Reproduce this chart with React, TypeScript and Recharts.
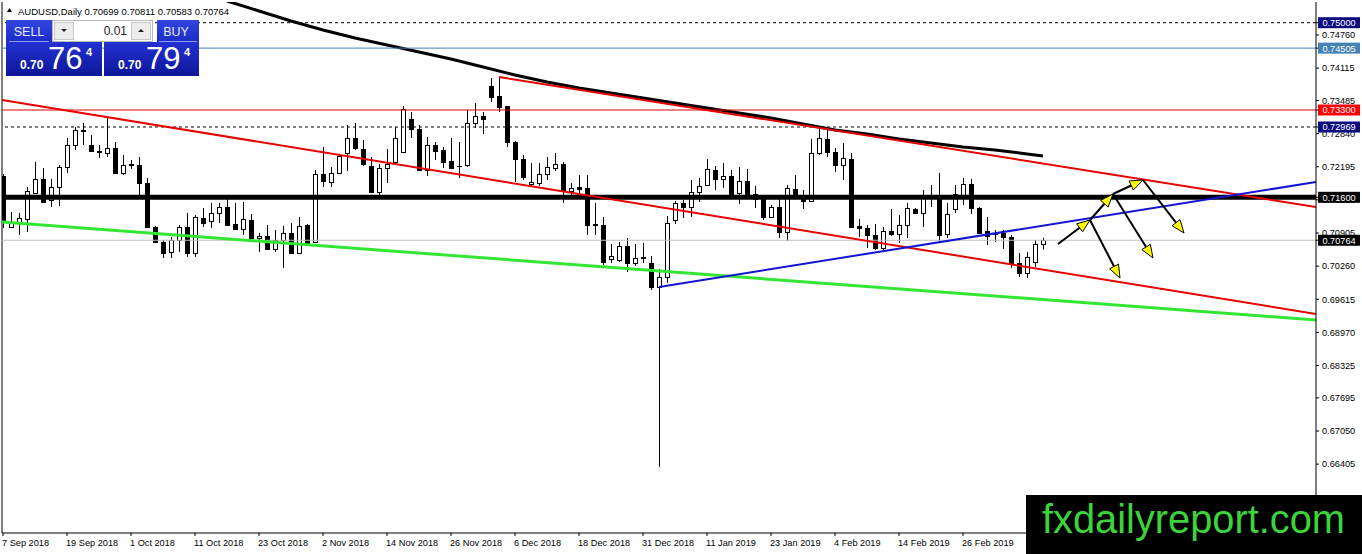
import React from "react";
import { Bar, ComposedChart, Line, ReferenceLine, XAxis, YAxis } from "recharts";

// daily bars, AUDUSD
const dates = [
  "2018-09-07", "2018-09-10", "2018-09-11", "2018-09-12", "2018-09-13", "2018-09-14", "2018-09-17", "2018-09-18",
  "2018-09-19", "2018-09-20", "2018-09-21", "2018-09-24", "2018-09-25", "2018-09-26", "2018-09-27", "2018-09-28",
  "2018-10-01", "2018-10-02", "2018-10-03", "2018-10-04", "2018-10-05", "2018-10-08", "2018-10-09", "2018-10-10",
  "2018-10-11", "2018-10-12", "2018-10-15", "2018-10-16", "2018-10-17", "2018-10-18", "2018-10-19", "2018-10-22",
  "2018-10-23", "2018-10-24", "2018-10-25", "2018-10-26", "2018-10-29", "2018-10-30", "2018-10-31",
  "2018-11-01", "2018-11-02", "2018-11-05", "2018-11-06", "2018-11-07", "2018-11-08", "2018-11-09", "2018-11-12",
  "2018-11-13", "2018-11-14", "2018-11-15", "2018-11-16", "2018-11-19", "2018-11-20", "2018-11-21", "2018-11-22",
  "2018-11-23", "2018-11-26", "2018-11-27", "2018-11-28", "2018-11-29", "2018-11-30",
  "2018-12-03", "2018-12-04", "2018-12-05", "2018-12-06", "2018-12-07", "2018-12-10", "2018-12-11", "2018-12-12",
  "2018-12-13", "2018-12-14", "2018-12-17", "2018-12-18", "2018-12-19", "2018-12-20", "2018-12-21", "2018-12-24",
  "2018-12-26", "2018-12-27", "2018-12-28", "2018-12-31",
  "2019-01-02", "2019-01-03", "2019-01-04", "2019-01-07", "2019-01-08", "2019-01-09", "2019-01-10", "2019-01-11",
  "2019-01-14", "2019-01-15", "2019-01-16", "2019-01-17", "2019-01-18", "2019-01-21", "2019-01-22", "2019-01-23",
  "2019-01-24", "2019-01-25", "2019-01-28", "2019-01-29", "2019-01-30", "2019-01-31",
  "2019-02-01", "2019-02-04", "2019-02-05", "2019-02-06", "2019-02-07", "2019-02-08", "2019-02-11", "2019-02-12",
  "2019-02-13", "2019-02-14", "2019-02-15", "2019-02-18", "2019-02-19", "2019-02-20", "2019-02-21", "2019-02-22",
  "2019-02-25", "2019-02-26", "2019-02-27", "2019-02-28",
  "2019-03-01", "2019-03-04", "2019-03-05", "2019-03-06", "2019-03-07", "2019-03-08", "2019-03-11", "2019-03-12",
];

const opens = [
  0.72015, 0.71022, 0.7112, 0.71178, 0.71684, 0.71957, 0.71548, 0.71801, 0.72191, 0.72619,
  0.72911, 0.72619, 0.72502, 0.72463, 0.7256, 0.72074, 0.72249, 0.72229, 0.71879, 0.71022,
  0.7073, 0.70536, 0.70769, 0.71022, 0.70516, 0.71198, 0.71139, 0.71295, 0.71412, 0.71081,
  0.70983, 0.71159, 0.70808, 0.70847, 0.70594, 0.70769, 0.70905, 0.70516, 0.71061, 0.7073,
  0.72054, 0.71898, 0.72074, 0.72463, 0.72755, 0.72541, 0.7221, 0.71704, 0.72171, 0.72288,
  0.72483, 0.73125, 0.7293, 0.72132, 0.72619, 0.72521, 0.72307, 0.7221, 0.72229, 0.73047,
  0.73183, 0.73768, 0.73573, 0.73378, 0.72677, 0.72346, 0.7186, 0.71879, 0.72054, 0.72171,
  0.72249, 0.71723, 0.71801, 0.71782, 0.71081, 0.71061, 0.70399, 0.7038, 0.70652, 0.70321,
  0.70438, 0.70321, 0.69854, 0.70049, 0.71159, 0.7149, 0.71412, 0.71704, 0.7184, 0.72132,
  0.71957, 0.72015, 0.71684, 0.71918, 0.71665, 0.71567, 0.71217, 0.71412, 0.70925, 0.71762,
  0.71606, 0.71529, 0.72463, 0.72736, 0.72483, 0.72229, 0.72346, 0.71042, 0.71003, 0.70867,
  0.70613, 0.70944, 0.70886, 0.71061, 0.71373, 0.71295, 0.71587, 0.71587, 0.70886, 0.71373,
  0.71645, 0.7186, 0.71392, 0.70944, 0.70905, 0.70905, 0.70828, 0.70321, 0.70127, 0.70341,
  0.70699,
];

const highs = [
  0.72054, 0.71314, 0.71295, 0.71801, 0.72288, 0.72171, 0.71957, 0.72229, 0.72755, 0.72969,
  0.73047, 0.72814, 0.72619, 0.73145, 0.72677, 0.72424, 0.72327, 0.72385, 0.71976, 0.71042,
  0.70769, 0.70828, 0.71061, 0.71295, 0.71256, 0.71392, 0.7149, 0.7149, 0.71587, 0.7149,
  0.71509, 0.71275, 0.70905, 0.71061, 0.70964, 0.71042, 0.711, 0.71217, 0.71081, 0.72132,
  0.7258, 0.72191, 0.72444, 0.73008, 0.73047, 0.72716, 0.72385, 0.72249, 0.72541, 0.72969,
  0.73378, 0.73261, 0.73008, 0.72775, 0.72677, 0.7258, 0.72755, 0.72677, 0.733, 0.73437,
  0.73261, 0.73923, 0.73943, 0.73378, 0.72697, 0.72424, 0.72268, 0.72268, 0.72385, 0.72463,
  0.72288, 0.71879, 0.72035, 0.72035, 0.7149, 0.71217, 0.70691, 0.7073, 0.70808, 0.70691,
  0.70711, 0.70458, 0.70205, 0.71236, 0.71529, 0.71548, 0.71937, 0.71976, 0.72346, 0.7221,
  0.72268, 0.72132, 0.72191, 0.72152, 0.71821, 0.71645, 0.71451, 0.71645, 0.7184, 0.72035,
  0.71743, 0.72736, 0.7293, 0.72911, 0.7256, 0.72658, 0.72463, 0.71178, 0.71061, 0.71081,
  0.71022, 0.71373, 0.71256, 0.7149, 0.71392, 0.71743, 0.7184, 0.72074, 0.7149, 0.7184,
  0.71976, 0.71957, 0.71412, 0.71217, 0.70964, 0.70964, 0.70867, 0.70516, 0.70536, 0.70769,
  0.70811,
];

const lows = [
  0.71003, 0.71003, 0.70867, 0.70925, 0.71684, 0.7149, 0.71412, 0.71431, 0.72074, 0.72521,
  0.72619, 0.72502, 0.72366, 0.72385, 0.72054, 0.72035, 0.72152, 0.71626, 0.71003, 0.7073,
  0.70419, 0.70419, 0.70536, 0.70438, 0.70438, 0.71022, 0.71003, 0.711, 0.71061, 0.70983,
  0.70867, 0.70808, 0.70536, 0.70574, 0.70536, 0.70224, 0.70516, 0.70516, 0.70691, 0.70711,
  0.71801, 0.71801, 0.72074, 0.72113, 0.72521, 0.7221, 0.71704, 0.71626, 0.71879, 0.72268,
  0.72483, 0.72755, 0.72113, 0.72015, 0.72327, 0.72171, 0.72171, 0.71976, 0.72191, 0.7295,
  0.72833, 0.73456, 0.73261, 0.7258, 0.71898, 0.71937, 0.71801, 0.71821, 0.71937, 0.72113,
  0.7149, 0.71645, 0.71645, 0.70867, 0.70867, 0.70282, 0.70321, 0.70341, 0.70146, 0.70263,
  0.70321, 0.69796, 0.6635, 0.69932, 0.71081, 0.71198, 0.71217, 0.71509, 0.7184, 0.71743,
  0.71782, 0.71626, 0.7147, 0.71587, 0.71392, 0.71159, 0.71198, 0.70808, 0.7075, 0.71606,
  0.71373, 0.71509, 0.72424, 0.72385, 0.72093, 0.71937, 0.71022, 0.70828, 0.70613, 0.70574,
  0.70574, 0.70847, 0.70711, 0.70808, 0.71275, 0.71022, 0.71412, 0.7073, 0.70808, 0.71295,
  0.71451, 0.71275, 0.70905, 0.70672, 0.7073, 0.70594, 0.70224, 0.70049, 0.70029, 0.70244,
  0.70583,
];

const closes = [
  0.71159, 0.711, 0.71198, 0.71723, 0.71957, 0.71509, 0.71801, 0.72191, 0.72619, 0.72911,
  0.72891, 0.72502, 0.72483, 0.7256, 0.72074, 0.72229, 0.72229, 0.71879, 0.71022, 0.7073,
  0.70516, 0.70769, 0.71022, 0.70516, 0.71217, 0.711, 0.71295, 0.71412, 0.71061, 0.70983,
  0.71178, 0.70808, 0.70847, 0.70594, 0.70769, 0.70905, 0.70516, 0.71042, 0.70711, 0.72054,
  0.71918, 0.72074, 0.72405, 0.72755, 0.7256, 0.72249, 0.71704, 0.72171, 0.72249, 0.72755,
  0.7332, 0.7293, 0.72132, 0.72619, 0.72502, 0.72288, 0.72171, 0.7221, 0.73047, 0.73183,
  0.73125, 0.73553, 0.73359, 0.72677, 0.72346, 0.71996, 0.71898, 0.72054, 0.72191, 0.72249,
  0.71743, 0.71782, 0.71762, 0.71061, 0.71061, 0.70341, 0.70458, 0.70652, 0.70321, 0.70419,
  0.70419, 0.69854, 0.70049, 0.711, 0.7149, 0.71412, 0.71704, 0.71821, 0.72152, 0.71957,
  0.72015, 0.71645, 0.71918, 0.71645, 0.71567, 0.71217, 0.71412, 0.70925, 0.71782, 0.71606,
  0.71529, 0.72463, 0.72755, 0.72483, 0.72229, 0.72366, 0.71022, 0.71003, 0.70867, 0.70613,
  0.70944, 0.70886, 0.71061, 0.71392, 0.71295, 0.71587, 0.71587, 0.70867, 0.71275, 0.71665,
  0.7186, 0.71392, 0.70905, 0.70847, 0.70886, 0.70828, 0.70321, 0.70127, 0.70438, 0.70691,
  0.70764,
];

// moving average read at every 4th bar
const maIndex = [28, 32, 36, 40, 44, 48, 52, 56, 60, 64, 68, 72, 76, 80, 84, 88, 92, 96, 100, 104, 108, 112, 116, 120, 124, 128, 130];
const maValues = [
  0.75423, 0.75228, 0.75033, 0.74858, 0.74702, 0.74566, 0.7443, 0.74293, 0.74138, 0.73982,
  0.73846, 0.73729, 0.73631, 0.73534, 0.73437, 0.73339, 0.73242, 0.73145, 0.73028, 0.72911,
  0.72833, 0.72736, 0.72658, 0.7258, 0.72521, 0.72444, 0.72405,
];

const priceTicks = [0.7476, 0.74115, 0.73485, 0.7284, 0.72195, 0.7155, 0.70905, 0.7026, 0.69615, 0.6897, 0.68325, 0.67695, 0.6705, 0.66405, 0.6576];
const dateTicks = [0, 8, 16, 24, 32, 40, 48, 56, 64, 72, 80, 88, 96, 104, 112, 120];
const months = ["Jan", "Feb", "Mar", "Apr", "May", "Jun", "Jul", "Aug", "Sep", "Oct", "Nov", "Dec"];

// horizontal levels
const levelDashTop = 0.75;
const levelBlue = 0.74505;
const levelRed = 0.733;
const levelDashMid = 0.72969;
const levelBlack = 0.716;
const bid = closes[closes.length - 1];
const ask = 0.70794;

// price tags drawn on the axis, on top of the regular ticks
const tagPrices = [levelDashTop, levelBlue, levelRed, levelDashMid, levelBlack, bid];
const tagColors = ["#0b0b80", "#4682b4", "#ff0000", "#0b0b80", "#000000", "#000000"];

// trend lines: [bar1, price1, bar2, price2]
const channelUpper = [62, 0.73943, 164.125, 0.71412];
const channelLower = [-0.125, 0.73495, 164.125, 0.69328];
const greenLine = [-0.125, 0.7112, 164.125, 0.69212];
const blueLine = [82, 0.69854, 164.125, 0.71898];

// projected path arrows: [bar1, price1, bar2, price2]
const upArrows = [
  [131.875, 0.70691, 135.875, 0.71159],
  [135.875, 0.71159, 138.75, 0.71665],
  [138.75, 0.71665, 142.5, 0.71937],
];
const downArrows = [
  [135.875, 0.71159, 139.625, 0.70029],
  [138.75, 0.71665, 143.75, 0.70419],
  [142.5, 0.71937, 147.625, 0.70905],
];

const maMap: Record<number, number> = {};
maIndex.forEach((idx, k) => (maMap[idx] = maValues[k]));

const data = dates.map((d, i) => ({
  i,
  date: d,
  o: opens[i],
  h: highs[i],
  l: lows[i],
  c: closes[i],
  range: [lows[i], highs[i]],
  ma: maMap[i] !== undefined ? maMap[i] : null,
}));

const FONT = "'Liberation Sans', Arial, sans-serif";

const fmtDate = (i: number) => {
  const d = dates[i];
  if (!d) return "";
  const [y, m, day] = d.split("-");
  return `${parseInt(day, 10)} ${months[parseInt(m, 10) - 1]} ${y}`;
};

const Candle = (props: any) => {
  const { x, y, width, height, payload } = props;
  const { o, h, l, c } = payload;
  const yHi = Math.min(y, y + height);
  const yLo = Math.max(y, y + height);
  const span = h - l || 1;
  const py = (p: number) => yHi + ((h - p) / span) * (yLo - yHi);
  const cx = Math.round(x + width / 2);
  const top = Math.round(py(Math.max(o, c)));
  const bot = Math.round(py(Math.min(o, c)));
  const up = c >= o;
  return (
    <g>
      <line x1={cx + 0.5} x2={cx + 0.5} y1={yHi} y2={yLo} stroke="#000" strokeWidth={1} />
      {bot - top < 1 ? (
        <line x1={cx - 2} x2={cx + 3} y1={top + 0.5} y2={top + 0.5} stroke="#000" strokeWidth={1} />
      ) : (
        <rect x={cx - 1.5} y={top + 0.5} width={4} height={bot - top} fill={up ? "#fff" : "#000"} stroke="#000" strokeWidth={1} />
      )}
    </g>
  );
};

const XTick = (props: any) => {
  const { x, y, payload } = props;
  return (
    <text x={x - 1} y={y} dy="0.71em" textAnchor="start" fontSize={9.2} fontFamily={FONT} fill="#000">
      {fmtDate(payload.value)}
    </text>
  );
};

const YTick = (props: any) => {
  const { x, y, payload, index } = props;
  const v: number = payload.value;
  const tagAt = index >= priceTicks.length ? index - priceTicks.length : -1;
  if (tagAt >= 0) {
    return (
      <g>
        <rect x={x - 4} y={y - 5.5} width={42} height={11} fill={tagColors[tagAt]} />
        <text x={x + 17} y={y + 3.4} textAnchor="middle" fontSize={9.2} fontFamily={FONT} fill="#fff">
          {v.toFixed(5)}
        </text>
      </g>
    );
  }
  return (
    <text x={x} y={y + 3.3} textAnchor="start" fontSize={9.2} fontFamily={FONT} fill="#000">
      {v.toFixed(5)}
    </text>
  );
};

const ArrowShape = (props: any) => {
  const { x1, y1, x2, y2 } = props;
  const dx = x2 - x1;
  const dy = y2 - y1;
  const len = Math.hypot(dx, dy) || 1;
  const ux = dx / len;
  const uy = dy / len;
  const hl = 13;
  const hw = 5;
  const bx = x2 - ux * hl;
  const by = y2 - uy * hl;
  const pts = `${x2},${y2} ${bx - uy * hw},${by + ux * hw} ${bx + uy * hw},${by - ux * hw}`;
  return (
    <g>
      <line x1={x1} y1={y1} x2={bx} y2={by} stroke="#000" strokeWidth={2} />
      <polygon points={pts} fill="#ffff00" stroke="#000" strokeWidth={1} />
    </g>
  );
};

const seg = (s: number[]) => [
  { x: s[0], y: s[1] },
  { x: s[2], y: s[3] },
];

const Panel = () => {
  const last = closes.length - 1;
  const title = `AUDUSD,Daily ${opens[last].toFixed(5)} ${highs[last].toFixed(5)} ${lows[last].toFixed(5)} ${closes[last].toFixed(5)}`;
  const bidStr = bid.toFixed(5);
  const askStr = ask.toFixed(5);
  return (
    <svg width={260} height={80} style={{ position: "absolute", left: 0, top: 0 }}>
      <defs>
        <linearGradient id="btn" x1="0" y1="0" x2="0" y2="1">
          <stop offset="0" stopColor="#3346e0" />
          <stop offset="1" stopColor="#1c2cc6" />
        </linearGradient>
        <linearGradient id="px" x1="0" y1="0" x2="0" y2="1">
          <stop offset="0" stopColor="#2232d2" />
          <stop offset="1" stopColor="#0e1698" />
        </linearGradient>
      </defs>
      <polygon points="7,12 12,12 9.5,8" fill="#000" />
      <text x={18} y={14.5} fontSize={9.5} fontFamily={FONT} fill="#000">
        {title}
      </text>
      {/* sell / buy buttons */}
      <rect x={6} y={20} width={46} height={22} fill="url(#btn)" />
      <text x={29} y={35.5} textAnchor="middle" fontSize={12.5} fontFamily={FONT} fill="#e6ebff">SELL</text>
      <rect x={157} y={20} width={42} height={22} fill="url(#btn)" />
      <text x={176} y={35.5} textAnchor="middle" fontSize={12.5} fontFamily={FONT} fill="#e6ebff">BUY</text>
      <line x1={9} x2={49} y1={41.5} y2={41.5} stroke="#8f9cf0" />
      <line x1={159} x2={197} y1={41.5} y2={41.5} stroke="#8f9cf0" />
      {/* lot spinner */}
      <rect x={52.5} y={20.5} width={100} height={21} fill="#fff" stroke="#b8b8b8" />
      <rect x={54.5} y={22.5} width={19} height={17} fill="#ececec" stroke="#c8c8c8" />
      <rect x={131.5} y={22.5} width={19} height={17} fill="#ececec" stroke="#c8c8c8" />
      <polygon points="61,29 67,29 64,32" fill="#222" />
      <polygon points="138,32 144,32 141,29" fill="#222" />
      <text x={127} y={35} textAnchor="end" fontSize={12} fontFamily={FONT} fill="#222">0.01</text>
      {/* price boxes */}
      <rect x={6} y={42} width={96} height={34} fill="url(#px)" />
      <rect x={104} y={42} width={95} height={34} fill="url(#px)" />
      <text x={20} y={69} fontSize={12} fontWeight="bold" fontFamily={FONT} fill="#fff">{bidStr.slice(0, 4)}</text>
      <text x={48} y={69} fontSize={31} fontFamily={FONT} fill="#fff">{bidStr.slice(4, 6)}</text>
      <text x={86} y={56} fontSize={11} fontWeight="bold" fontFamily={FONT} fill="#fff">{bidStr.slice(6)}</text>
      <text x={118} y={69} fontSize={12} fontWeight="bold" fontFamily={FONT} fill="#fff">{askStr.slice(0, 4)}</text>
      <text x={146} y={69} fontSize={31} fontFamily={FONT} fill="#fff">{askStr.slice(4, 6)}</text>
      <text x={184} y={56} fontSize={11} fontWeight="bold" fontFamily={FONT} fill="#fff">{askStr.slice(6)}</text>
    </svg>
  );
};

const Watermark = () => (
  <svg width={336} height={59} style={{ position: "absolute", left: 1026, top: 495 }}>
    <rect x={0} y={0} width={336} height={59} fill="#000" />
    <text x={16} y={38} fontSize={39.8} fontFamily={FONT} fill="#3cd43c">
      fxdailyreport.com
    </text>
  </svg>
);

export default function App() {
  return (
    <div style={{ position: "absolute", left: 0, top: 0, width: 1362, height: 554, background: "#fff", overflow: "hidden" }}>
      <ComposedChart width={1362} height={554} data={data} margin={{ top: 2, right: 0, left: 2, bottom: 0 }}>
        <XAxis
          dataKey="i"
          type="number"
          domain={[-0.125, 164.125]}
          allowDataOverflow
          ticks={dateTicks}
          interval={0}
          height={21}
          tickSize={3}
          tickMargin={3}
          tick={<XTick />}
          axisLine={{ stroke: "#000" }}
          tickLine={{ stroke: "#000" }}
        />
        <YAxis
          orientation="right"
          type="number"
          domain={[0.65064, 0.75403]}
          allowDataOverflow
          ticks={[...priceTicks, ...tagPrices]}
          interval={0}
          width={46}
          tickSize={3}
          tickMargin={3}
          tick={<YTick />}
          axisLine={{ stroke: "#000" }}
          tickLine={{ stroke: "#000" }}
        />
        <ReferenceLine x={-0.125} stroke="#000" />
        <Bar dataKey="range" barSize={5} shape={<Candle />} isAnimationActive={false} />
        <Line dataKey="ma" stroke="#000" strokeWidth={3} dot={false} activeDot={false} connectNulls isAnimationActive={false} />

        <ReferenceLine y={levelDashTop} stroke="#000" strokeDasharray="3 3" />
        <ReferenceLine y={levelBlue} stroke="#4682b4" />
        <ReferenceLine y={levelRed} stroke="#e60000" />
        <ReferenceLine y={levelDashMid} stroke="#000" strokeDasharray="3 3" />
        <ReferenceLine y={bid} stroke="#c0c0c0" />
        <ReferenceLine y={levelBlack} stroke="#000" strokeWidth={5} />

        <ReferenceLine segment={seg(greenLine)} stroke="#33e633" strokeWidth={3} ifOverflow="hidden" />
        <ReferenceLine segment={seg(channelLower)} stroke="#e60000" strokeWidth={2} ifOverflow="hidden" />
        <ReferenceLine segment={seg(channelUpper)} stroke="#e60000" strokeWidth={2} ifOverflow="hidden" />
        <ReferenceLine segment={seg(blueLine)} stroke="#1414d2" strokeWidth={2} ifOverflow="hidden" />

        {downArrows.map((a, k) => (
          <ReferenceLine key={`d${k}`} segment={seg(a)} shape={(p: any) => <ArrowShape {...p} />} />
        ))}
        {upArrows.map((a, k) => (
          <ReferenceLine key={`u${k}`} segment={seg(a)} shape={(p: any) => <ArrowShape {...p} />} />
        ))}
      </ComposedChart>
      <Panel />
      <Watermark />
    </div>
  );
}
